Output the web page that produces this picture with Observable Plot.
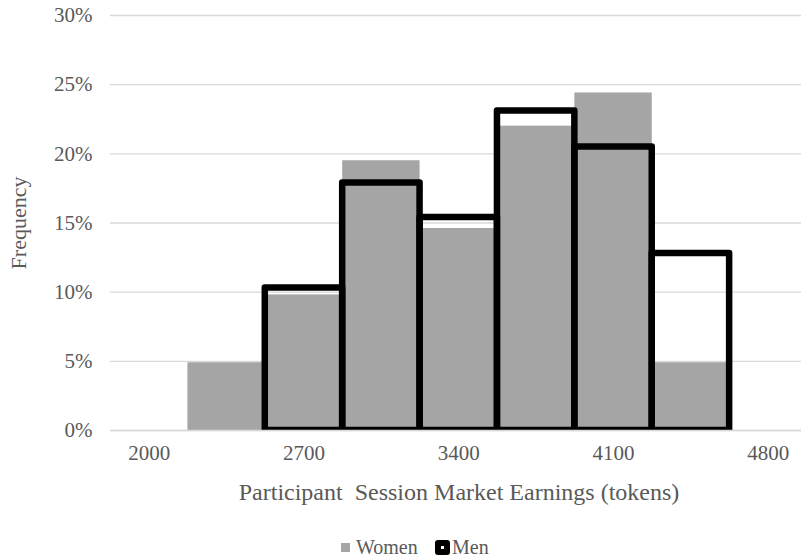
<!DOCTYPE html>
<html>
<head>
<meta charset="utf-8">
<script src="https://cdn.jsdelivr.net/npm/d3@7"></script>
<script src="https://cdn.jsdelivr.net/npm/@observablehq/plot@0.6"></script>
<style>
  body { margin: 0; background: #fff; font-family: "Liberation Serif", "Times New Roman", serif; }
  #chart svg text { white-space: pre; }
  #legend { height: 35px; position: relative; color: #595959; font-size: 20px; }
  #legend .item { position: absolute; top: 5px; height: 35px; display: flex; align-items: center; }
  #legend .sw-women { width: 9px; height: 9px; background: #a5a5a5; margin-right: 6px; }
  #legend .sw-men { width: 15px; height: 15px; background: #000; border-radius: 3px; margin-right: 2px; display: flex; align-items: center; justify-content: center; }
  #legend .sw-men i { width: 3px; height: 3px; background: #fff; display: block; }
</style>
</head>
<body>
<div id="chart"></div>
<div id="legend"></div>
<script>
// ---- data ----
const binCenters = [2350, 2700, 3050, 3400, 3750, 4100, 4450];   // earnings bins (tokens)
const binWidth = 350;
const women = [4.9, 9.8, 19.5, 14.6, 22.0, 24.4, 4.9];            // % frequency
const men   = [null, 10.3, 17.9, 15.4, 23.1, 20.5, 12.8];         // % frequency
const xTickValues = [2000, 2700, 3400, 4100, 4800];
const yTickValues = [0, 5, 10, 15, 20, 25, 30];
const seriesNames = ["Women", "Men"];
const xTitle = "Participant  Session Market Earnings (tokens)";
const yTitle = "Frequency";

const rows = (vals) => binCenters
  .map((c, i) => ({x1: c - binWidth / 2, x2: c + binWidth / 2, v: vals[i]}))
  .filter(d => d.v != null);

const textColor = "#595959";

const plot = Plot.plot({
  width: 801,
  height: 525,
  marginTop: 15,
  marginBottom: 95,
  marginLeft: 110,
  marginRight: 0,
  style: {fontFamily: '"Liberation Serif", "Times New Roman", serif', background: "#fff"},
  x: {type: "linear", domain: [1825, 4950]},
  y: {domain: [0, 30]},
  marks: [
    Plot.gridY(yTickValues, {stroke: "#d9d9d9", strokeOpacity: 1, strokeWidth: 1.3}),
    Plot.rectY(rows(women), {x1: "x1", x2: "x2", y: "v", fill: "#a5a5a5"}),
    Plot.rectY(rows(men), {x1: "x1", x2: "x2", y: "v", fill: "none", stroke: "#000", strokeWidth: 6.5, strokeLinejoin: "round", clip: "frame"}),
    Plot.ruleY([0], {stroke: "#d9d9d9", strokeWidth: 1.5}),
    Plot.axisY(yTickValues, {tickSize: 0, tickPadding: 18, tickFormat: d => d + "%", fontSize: 21, color: textColor, label: null}),
    Plot.axisX(xTickValues, {tickSize: 0, tickPadding: 15, tickFormat: d => String(d), fontSize: 21, color: textColor, label: null}),
    Plot.text([xTitle], {frameAnchor: "bottom", dy: 62, dx: 3, fontSize: 24, fill: textColor, textAnchor: "middle", lineAnchor: "middle"}),
    Plot.text([yTitle], {frameAnchor: "left", dx: -92, rotate: -90, fontSize: 22, fill: textColor, textAnchor: "middle", lineAnchor: "middle"})
  ]
});
document.getElementById("chart").appendChild(plot);

// legend
const legend = document.getElementById("legend");
const lw = document.createElement("div");
lw.className = "item"; lw.style.left = "341px";
lw.innerHTML = '<span class="sw-women"></span><span>' + seriesNames[0] + '</span>';
const lm = document.createElement("div");
lm.className = "item"; lm.style.left = "435px";
lm.innerHTML = '<span class="sw-men"><i></i></span><span>' + seriesNames[1] + '</span>';
legend.appendChild(lw);
legend.appendChild(lm);
</script>
</body>
</html>
